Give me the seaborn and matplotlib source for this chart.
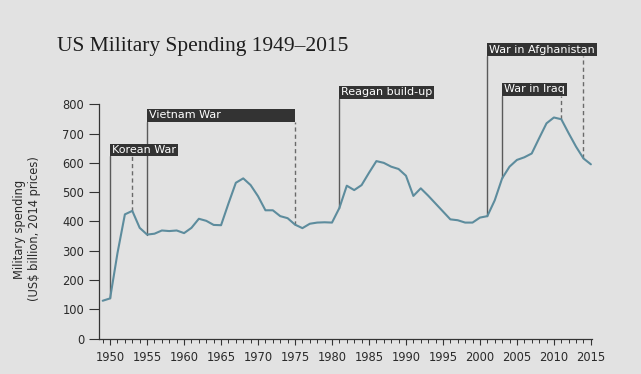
import matplotlib
matplotlib.use('Agg')
import matplotlib.pyplot as plt
import seaborn as sns
import pandas as pd
from matplotlib.patches import Rectangle
from matplotlib.ticker import FixedLocator

# ---------------- data ----------------
years = list(range(1949, 2016))
spending = [
    129, 137, 292, 424, 436, 378, 355, 358, 369, 367,   # 1949-1958
    369, 360, 378, 409, 402, 388, 387, 461, 532, 547,   # 1959-1968
    524, 486, 438, 438, 418, 411, 389, 377, 392, 396,   # 1969-1978
    397, 396, 446, 522, 507, 524, 566, 606, 600, 587,   # 1979-1988
    579, 556, 487, 513, 488, 461, 434, 407, 404, 396,   # 1989-1998
    396, 413, 418, 472, 547, 587, 610, 619, 632, 684,   # 1999-2008
    735, 755, 749, 701, 655, 615, 595,                  # 2009-2015
]

event_names = ["Korean War", "Vietnam War", "Reagan build-up",
               "War in Afghanistan", "War in Iraq"]
event_starts = [1950, 1955, 1981, 2001, 2003]
event_ends = [1953, 1975, None, 2014, 2011]
event_label_y = [644, 762, 841, 986, 851]

title_text = "US Military Spending 1949\u20132015"
ylabel_text = "Military spending\n(US$ billion, 2014 prices)"
y_ticks = list(range(0, 900, 100))
x_major = list(range(1950, 2016, 5))
x_minor = list(range(1949, 2016))

# ---------------- style ----------------
BG = '#e2e2e2'
LINE = '#5d8c9d'
DARK = '#333333'

sns.set_theme(style='white')
plt.rcParams['font.family'] = ['DejaVu Sans']

fig = plt.figure(figsize=(6.41, 3.74), dpi=100, facecolor=BG)
ax = fig.add_axes([0.15445, 0.0949, 0.7691, 0.6262])
ax.set_facecolor(BG)

df = pd.DataFrame({'year': years, 'spending': spending})
sns.lineplot(data=df, x='year', y='spending', color=LINE, lw=1.5, ax=ax, zorder=6)

ax.set_xlim(1948.5, 2015.15)
ax.set_ylim(0, 800)
ax.set_xlabel('')
ax.set_ylabel('')

for s in ['top', 'right']:
    ax.spines[s].set_visible(False)
for s in ['left', 'bottom']:
    ax.spines[s].set_color(DARK)
    ax.spines[s].set_linewidth(0.9)

ax.yaxis.set_major_locator(FixedLocator(y_ticks))
ax.xaxis.set_major_locator(FixedLocator(x_major))
ax.xaxis.set_minor_locator(FixedLocator(x_minor))
ax.tick_params(axis='y', which='major', direction='out', length=7.2, width=0.8,
               color=DARK, labelcolor='#2a2a2a', labelsize=8.3, pad=3.4, left=True)
ax.tick_params(axis='x', which='major', direction='out', length=4.5, width=0.8,
               color=DARK, labelcolor='#2a2a2a', labelsize=8.3, pad=4.5, bottom=True)
ax.tick_params(axis='x', which='minor', direction='out', length=2.6, width=0.7,
               color=DARK, bottom=True)

fig.text(57 / 641, 1 - 51 / 374, title_text, fontsize=15.5, color='#1e1e1e',
         family=['Liberation Serif'], ha='left', va='baseline')
fig.text(27 / 641, 1 - 229 / 374, ylabel_text, fontsize=8.3, color='#2a2a2a',
         rotation=90, ha='center', va='center', multialignment='center',
         linespacing=1.25)

# ---------------- event annotations ----------------
fig.canvas.draw()
renderer = fig.canvas.get_renderer()
half_h = 22  # half box height in data units
for name, s, e, ly in zip(event_names, event_starts, event_ends, event_label_y):
    t = ax.text(s + 0.25, ly, name, color='white', fontsize=8, ha='left',
                va='center', zorder=8, clip_on=False)
    bb = t.get_window_extent(renderer)
    right = ax.transData.inverted().transform((bb.x1 + 2, 0))[0]
    if e is not None:
        right = max(right, e)
    ax.add_patch(Rectangle((s, ly - half_h), right - s, 2 * half_h,
                           facecolor=DARK, edgecolor='none', zorder=7,
                           clip_on=False))
    v0 = spending[years.index(s)]
    ax.plot([s, s], [v0, ly - half_h], color='#5a5a5a', lw=1.0, zorder=5,
            clip_on=False)
    if e is not None:
        v1 = spending[years.index(e)]
        ax.plot([e, e], [v1, ly - half_h], color='#6a6a6a', lw=1.0,
                ls=(0, (3, 2.2)), zorder=5, clip_on=False)

fig.savefig('out.png', dpi=100, facecolor=BG)
